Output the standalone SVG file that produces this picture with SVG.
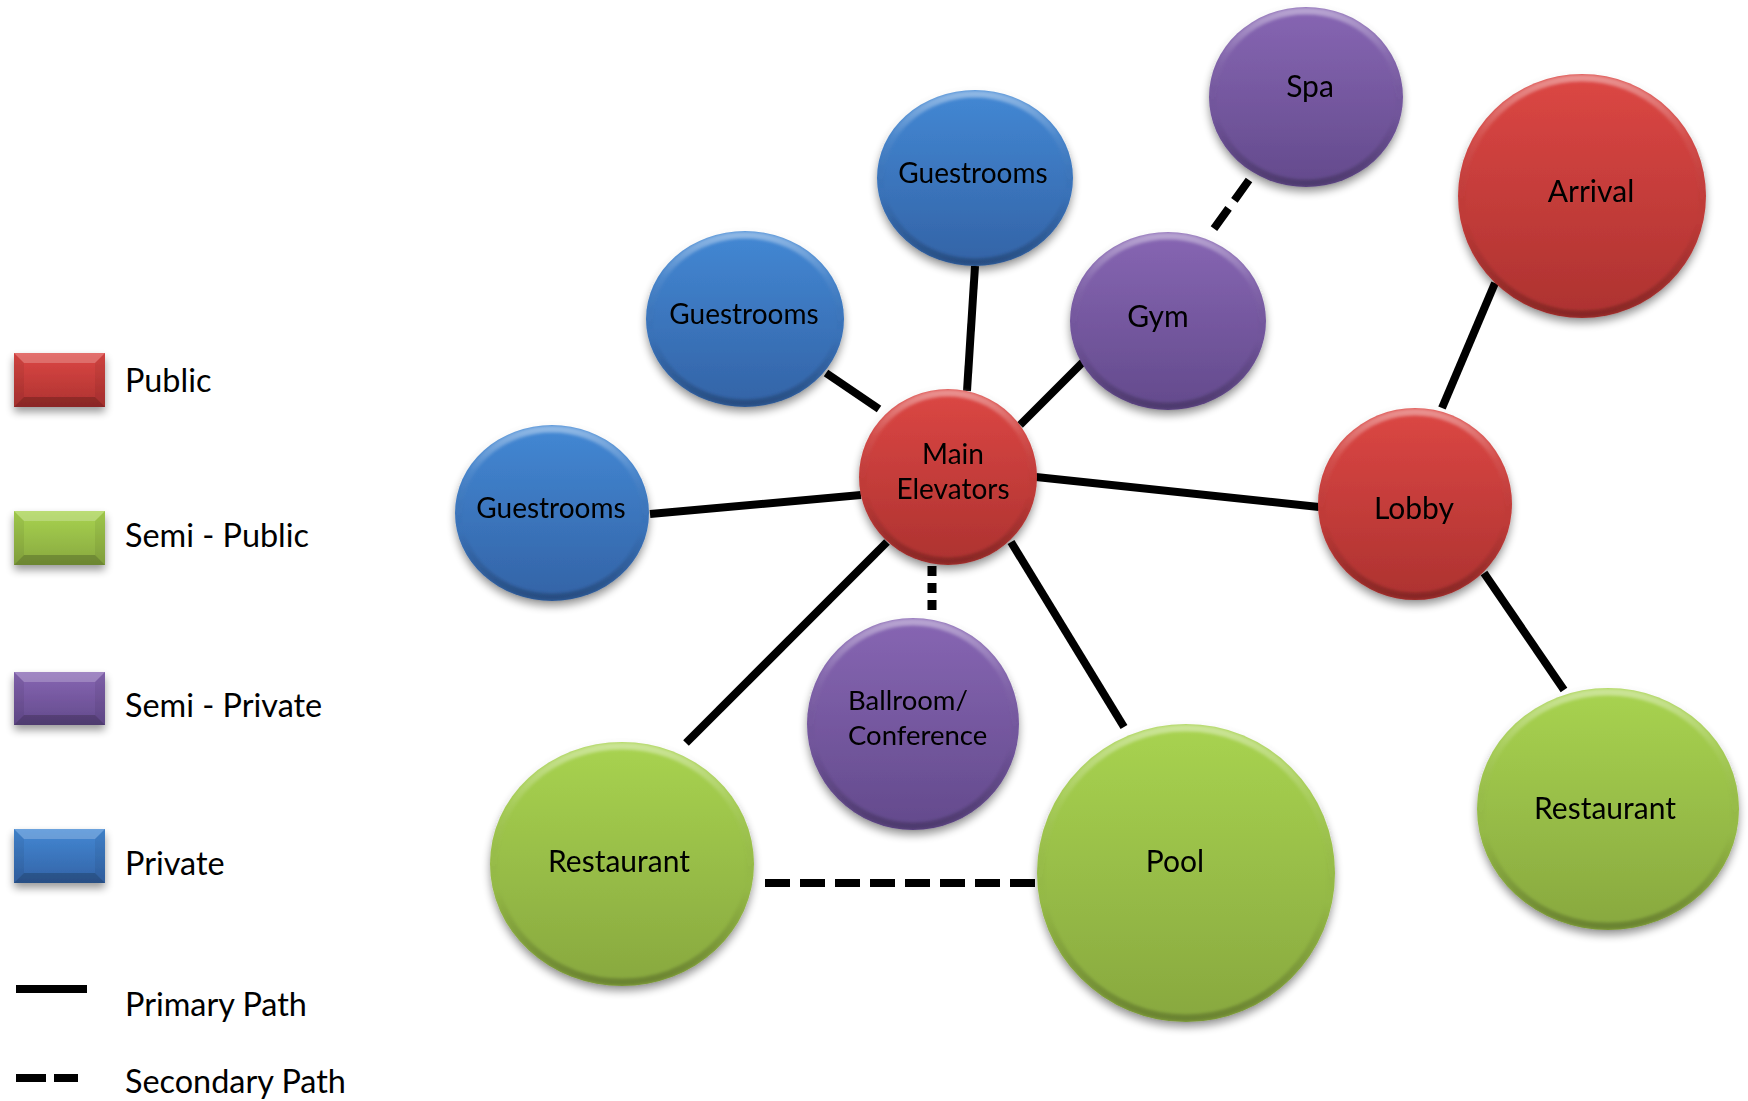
<svg xmlns="http://www.w3.org/2000/svg" width="1748" height="1101" viewBox="0 0 1748 1101">
  <style>
    text { font-family: "Lato", "Noto Sans", "Liberation Sans", sans-serif; fill: #000; }
    .legend-label { font-size: 32.4px; }
    .label { font-size: 28px; text-anchor: middle; }
    .label-lg { font-size: 30px; text-anchor: middle; }
    .primary { stroke: #000; stroke-width: 8; fill: none; }
    .secondary { stroke: #000; stroke-width: 8; fill: none; stroke-dasharray: 25 10; }
    .dotted { stroke: #000; stroke-width: 9; fill: none; stroke-dasharray: 10 7; }
    .bevel { fill: none; stroke: url(#rim); stroke-width: 7; }
    .red { fill: url(#gRed); }
    .green { fill: url(#gGreen); }
    .purple { fill: url(#gPurple); }
    .blue { fill: url(#gBlue); }
    .hi { fill: #fff; fill-opacity: 0.22; }
    .side { fill: #000; fill-opacity: 0.06; }
    .lo { fill: #000; fill-opacity: 0.2; }
  </style>
  <defs>
    <linearGradient id="gRed" x1="0" y1="0" x2="0" y2="1">
      <stop offset="0" stop-color="#dc4744"/>
      <stop offset="1" stop-color="#ad3230"/>
    </linearGradient>
    <linearGradient id="gGreen" x1="0" y1="0" x2="0" y2="1">
      <stop offset="0" stop-color="#a8d350"/>
      <stop offset="1" stop-color="#88a83f"/>
    </linearGradient>
    <linearGradient id="gPurple" x1="0" y1="0" x2="0" y2="1">
      <stop offset="0" stop-color="#8766b3"/>
      <stop offset="1" stop-color="#634a8c"/>
    </linearGradient>
    <linearGradient id="gBlue" x1="0" y1="0" x2="0" y2="1">
      <stop offset="0" stop-color="#4388d4"/>
      <stop offset="1" stop-color="#3363a6"/>
    </linearGradient>
    <linearGradient id="rim" x1="0" y1="0" x2="0" y2="1">
      <stop offset="0" stop-color="#fff" stop-opacity="0.4"/>
      <stop offset="0.25" stop-color="#fff" stop-opacity="0.08"/>
      <stop offset="0.6" stop-color="#000" stop-opacity="0"/>
      <stop offset="1" stop-color="#000" stop-opacity="0.22"/>
    </linearGradient>
    <filter id="shadow" x="-20%" y="-20%" width="140%" height="150%">
      <feGaussianBlur in="SourceAlpha" stdDeviation="4"/>
      <feOffset dx="0" dy="5" result="b"/>
      <feComponentTransfer><feFuncA type="linear" slope="0.4"/></feComponentTransfer>
      <feMerge><feMergeNode/><feMergeNode in="SourceGraphic"/></feMerge>
    </filter>
    <filter id="soft" x="-10%" y="-10%" width="120%" height="120%">
      <feGaussianBlur stdDeviation="1.5"/>
    </filter>
  </defs>

  <rect width="1748" height="1101" fill="#fff"/>

  <!-- legend -->
  <g id="legend">
    <g id="legend-public" transform="translate(14,353)" filter="url(#shadow)">
      <rect class="red" width="91" height="54"/>
      <polygon class="hi" points="0,0 91,0 81,10 10,10"/>
      <polygon class="side" points="0,0 10,10 10,44 0,54"/>
      <polygon class="side" points="91,0 81,10 81,44 91,54"/>
      <polygon class="lo" points="0,54 10,44 81,44 91,54"/>
    </g>
    <text class="legend-label" x="125" y="392">Public</text>

    <g id="legend-semi-public" transform="translate(14,511)" filter="url(#shadow)">
      <rect class="green" width="91" height="54"/>
      <polygon class="hi" points="0,0 91,0 81,10 10,10"/>
      <polygon class="side" points="0,0 10,10 10,44 0,54"/>
      <polygon class="side" points="91,0 81,10 81,44 91,54"/>
      <polygon class="lo" points="0,54 10,44 81,44 91,54"/>
    </g>
    <text class="legend-label" x="125" y="547">Semi - Public</text>

    <g id="legend-semi-private" transform="translate(14,672)" filter="url(#shadow)">
      <rect class="purple" width="91" height="53"/>
      <polygon class="hi" points="0,0 91,0 81,10 10,10"/>
      <polygon class="side" points="0,0 10,10 10,43 0,53"/>
      <polygon class="side" points="91,0 81,10 81,43 91,53"/>
      <polygon class="lo" points="0,53 10,43 81,43 91,53"/>
    </g>
    <text class="legend-label" x="125" y="717">Semi - Private</text>

    <g id="legend-private" transform="translate(14,829)" filter="url(#shadow)">
      <rect class="blue" width="91" height="54"/>
      <polygon class="hi" points="0,0 91,0 81,10 10,10"/>
      <polygon class="side" points="0,0 10,10 10,44 0,54"/>
      <polygon class="side" points="91,0 81,10 81,44 91,54"/>
      <polygon class="lo" points="0,54 10,44 81,44 91,54"/>
    </g>
    <text class="legend-label" x="125" y="875">Private</text>

    <line class="primary" x1="16" y1="989" x2="87" y2="989"/>
    <text class="legend-label" x="125" y="1016">Primary Path</text>

    <line class="primary" x1="16" y1="1078" x2="46" y2="1078"/>
    <line class="primary" x1="54" y1="1078" x2="78" y2="1078"/>
    <text class="legend-label" x="125" y="1093">Secondary Path</text>
  </g>

  <!-- paths between spaces -->
  <g id="connectors">
    <line class="primary" x1="975" y1="266" x2="967" y2="391"/>
    <line class="primary" x1="826" y1="373" x2="879" y2="409"/>
    <line class="primary" x1="650" y1="514" x2="861" y2="495"/>
    <line class="primary" x1="1020" y1="425" x2="1090" y2="355"/>
    <line class="primary" x1="1036" y1="477" x2="1319" y2="507"/>
    <line class="primary" x1="1495" y1="283" x2="1442" y2="408"/>
    <line class="primary" x1="1484" y1="573" x2="1564" y2="690"/>
    <line class="primary" x1="887" y1="542" x2="686" y2="743"/>
    <line class="primary" x1="1011" y1="542" x2="1124" y2="727"/>
    <line class="dotted" x1="932" y1="566" x2="932" y2="612"/>
    <line class="secondary" x1="1249" y1="180" x2="1213" y2="230"/>
    <line class="secondary" x1="765" y1="883" x2="1037" y2="883"/>
  </g>

  <!-- spaces -->
  <g id="guestrooms-top" filter="url(#shadow)">
    <ellipse class="blue" cx="975" cy="178" rx="98" ry="88"/>
    <ellipse class="bevel" cx="975" cy="178" rx="94" ry="84" filter="url(#soft)"/>
    <text class="label" x="973" y="183">Guestrooms</text>
  </g>
  <g id="guestrooms-mid" filter="url(#shadow)">
    <ellipse class="blue" cx="745" cy="319" rx="99" ry="88"/>
    <ellipse class="bevel" cx="745" cy="319" rx="95" ry="84" filter="url(#soft)"/>
    <text class="label" x="744" y="324">Guestrooms</text>
  </g>
  <g id="guestrooms-left" filter="url(#shadow)">
    <ellipse class="blue" cx="552" cy="513" rx="97" ry="88"/>
    <ellipse class="bevel" cx="552" cy="513" rx="93" ry="84" filter="url(#soft)"/>
    <text class="label" x="551" y="518">Guestrooms</text>
  </g>
  <g id="main-elevators" filter="url(#shadow)">
    <ellipse class="red" cx="948" cy="477" rx="89" ry="88"/>
    <ellipse class="bevel" cx="948" cy="477" rx="85" ry="84" filter="url(#soft)"/>
    <text class="label" x="953" y="464">Main</text>
    <text class="label" x="953" y="499">Elevators</text>
  </g>
  <g id="gym" filter="url(#shadow)">
    <ellipse class="purple" cx="1168" cy="321" rx="98" ry="89"/>
    <ellipse class="bevel" cx="1168" cy="321" rx="94" ry="85" filter="url(#soft)"/>
    <text class="label-lg" x="1158" y="327">Gym</text>
  </g>
  <g id="spa" filter="url(#shadow)">
    <ellipse class="purple" cx="1306" cy="97" rx="97" ry="90"/>
    <ellipse class="bevel" cx="1306" cy="97" rx="93" ry="86" filter="url(#soft)"/>
    <text class="label-lg" x="1310" y="97">Spa</text>
  </g>
  <g id="arrival" filter="url(#shadow)">
    <ellipse class="red" cx="1582" cy="196" rx="124" ry="122"/>
    <ellipse class="bevel" cx="1582" cy="196" rx="120" ry="118" filter="url(#soft)"/>
    <text class="label-lg" x="1591" y="202">Arrival</text>
  </g>
  <g id="lobby" filter="url(#shadow)">
    <ellipse class="red" cx="1415" cy="504" rx="97" ry="96"/>
    <ellipse class="bevel" cx="1415" cy="504" rx="93" ry="92" filter="url(#soft)"/>
    <text class="label-lg" x="1414" y="519">Lobby</text>
  </g>
  <g id="ballroom-conference" filter="url(#shadow)">
    <ellipse class="purple" cx="913" cy="724" rx="106" ry="106"/>
    <ellipse class="bevel" cx="913" cy="724" rx="102" ry="102" filter="url(#soft)"/>
    <text class="label" x="848" y="710" style="text-anchor:start;font-size:27.5px">Ballroom/</text>
    <text class="label" x="848" y="745" style="text-anchor:start;font-size:27.5px">Conference</text>
  </g>
  <g id="restaurant-left" filter="url(#shadow)">
    <ellipse class="green" cx="622" cy="864" rx="132" ry="122"/>
    <ellipse class="bevel" cx="622" cy="864" rx="128" ry="118" filter="url(#soft)"/>
    <text class="label-lg" x="619" y="872">Restaurant</text>
  </g>
  <g id="pool" filter="url(#shadow)">
    <ellipse class="green" cx="1186" cy="873" rx="149" ry="149"/>
    <ellipse class="bevel" cx="1186" cy="873" rx="145" ry="145" filter="url(#soft)"/>
    <text class="label-lg" x="1175" y="872">Pool</text>
  </g>
  <g id="restaurant-right" filter="url(#shadow)">
    <ellipse class="green" cx="1608" cy="809" rx="131" ry="121"/>
    <ellipse class="bevel" cx="1608" cy="809" rx="127" ry="117" filter="url(#soft)"/>
    <text class="label-lg" x="1605" y="819">Restaurant</text>
  </g>
</svg>
